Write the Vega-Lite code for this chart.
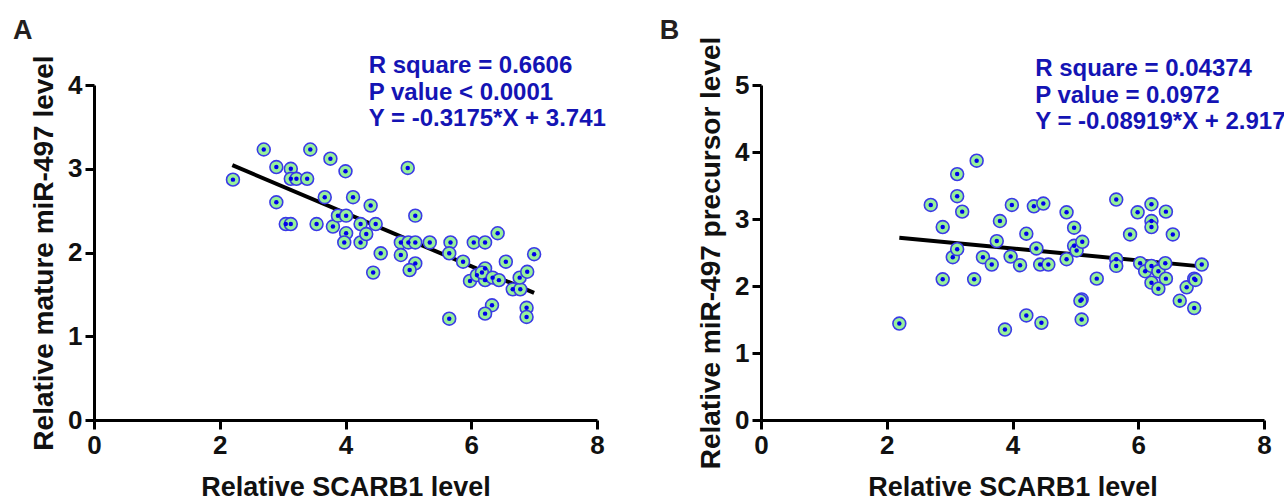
{
  "$schema": "https://vega.github.io/schema/vega-lite/v6.json",
  "autosize": {"type": "pad"},
  "padding": {"left": 12, "top": 16, "right": 0, "bottom": 0},
  "bounds": "flush",
  "spacing": 164,
  "background": "white",
  "config": {
    "view": {"stroke": null},
    "font": "Liberation Sans",
    "axis": {
      "grid": false,
      "domainColor": "black",
      "domainWidth": 3,
      "tickColor": "black",
      "tickWidth": 3,
      "tickSize": 9,
      "labelFont": "Liberation Sans",
      "labelFontSize": 26,
      "labelFontWeight": "bold",
      "labelColor": "#111111",
      "labelPadding": 3,
      "labelFlush": false,
      "titleFont": "Liberation Sans",
      "titleFontWeight": "bold",
      "titleColor": "#111111"
    },
    "axisX": {"titleFontSize": 27, "titlePadding": 16},
    "axisY": {"titleFontSize": 28, "titlePadding": 9}
  },
  "datasets": {
    "a": [
      {"scarb1": 2.21, "mature": 2.87}, {"scarb1": 2.70, "mature": 3.23}, {"scarb1": 2.90, "mature": 3.02},
      {"scarb1": 3.13, "mature": 3.00}, {"scarb1": 3.13, "mature": 2.88}, {"scarb1": 3.22, "mature": 2.88},
      {"scarb1": 3.39, "mature": 2.88}, {"scarb1": 3.44, "mature": 3.23}, {"scarb1": 2.90, "mature": 2.60},
      {"scarb1": 3.05, "mature": 2.34}, {"scarb1": 3.13, "mature": 2.34}, {"scarb1": 3.54, "mature": 2.34},
      {"scarb1": 3.67, "mature": 2.66}, {"scarb1": 3.76, "mature": 3.12}, {"scarb1": 3.80, "mature": 2.31},
      {"scarb1": 3.88, "mature": 2.44}, {"scarb1": 4.01, "mature": 2.44}, {"scarb1": 4.00, "mature": 2.97},
      {"scarb1": 4.01, "mature": 2.23}, {"scarb1": 3.98, "mature": 2.12}, {"scarb1": 4.12, "mature": 2.66},
      {"scarb1": 4.24, "mature": 2.34}, {"scarb1": 4.24, "mature": 2.12}, {"scarb1": 4.33, "mature": 2.22},
      {"scarb1": 4.40, "mature": 2.56}, {"scarb1": 4.48, "mature": 2.34}, {"scarb1": 4.56, "mature": 1.99},
      {"scarb1": 4.44, "mature": 1.76}, {"scarb1": 4.99, "mature": 3.01}, {"scarb1": 5.11, "mature": 2.44},
      {"scarb1": 4.88, "mature": 2.12}, {"scarb1": 5.00, "mature": 2.12}, {"scarb1": 5.11, "mature": 2.12},
      {"scarb1": 5.34, "mature": 2.12}, {"scarb1": 4.88, "mature": 1.97}, {"scarb1": 5.11, "mature": 1.87},
      {"scarb1": 5.02, "mature": 1.79}, {"scarb1": 5.67, "mature": 2.12}, {"scarb1": 5.65, "mature": 1.99},
      {"scarb1": 5.65, "mature": 1.21}, {"scarb1": 5.87, "mature": 1.89}, {"scarb1": 6.04, "mature": 2.12},
      {"scarb1": 6.22, "mature": 2.12}, {"scarb1": 6.42, "mature": 2.23}, {"scarb1": 5.98, "mature": 1.66},
      {"scarb1": 6.09, "mature": 1.73}, {"scarb1": 6.22, "mature": 1.81}, {"scarb1": 6.22, "mature": 1.67},
      {"scarb1": 6.17, "mature": 1.76}, {"scarb1": 6.34, "mature": 1.70}, {"scarb1": 6.44, "mature": 1.67},
      {"scarb1": 6.55, "mature": 1.89}, {"scarb1": 6.66, "mature": 1.56}, {"scarb1": 6.78, "mature": 1.56},
      {"scarb1": 6.77, "mature": 1.70}, {"scarb1": 6.89, "mature": 1.77}, {"scarb1": 7.00, "mature": 1.98},
      {"scarb1": 6.33, "mature": 1.37}, {"scarb1": 6.22, "mature": 1.27}, {"scarb1": 6.88, "mature": 1.34},
      {"scarb1": 6.88, "mature": 1.23}
    ],
    "b": [
      {"scarb1": 2.20, "precursor": 1.44}, {"scarb1": 2.70, "precursor": 3.21}, {"scarb1": 2.89, "precursor": 2.88},
      {"scarb1": 2.89, "precursor": 2.10}, {"scarb1": 3.05, "precursor": 2.43}, {"scarb1": 3.12, "precursor": 2.55},
      {"scarb1": 3.12, "precursor": 3.67}, {"scarb1": 3.12, "precursor": 3.34}, {"scarb1": 3.20, "precursor": 3.11},
      {"scarb1": 3.39, "precursor": 2.10}, {"scarb1": 3.43, "precursor": 3.87}, {"scarb1": 3.53, "precursor": 2.43},
      {"scarb1": 3.67, "precursor": 2.32}, {"scarb1": 3.75, "precursor": 2.67}, {"scarb1": 3.80, "precursor": 2.97},
      {"scarb1": 3.88, "precursor": 1.35}, {"scarb1": 3.99, "precursor": 3.21}, {"scarb1": 3.97, "precursor": 2.44},
      {"scarb1": 4.12, "precursor": 2.31}, {"scarb1": 4.22, "precursor": 2.78}, {"scarb1": 4.22, "precursor": 1.56},
      {"scarb1": 4.34, "precursor": 3.19}, {"scarb1": 4.38, "precursor": 2.56}, {"scarb1": 4.44, "precursor": 2.32},
      {"scarb1": 4.49, "precursor": 3.23}, {"scarb1": 4.46, "precursor": 1.45}, {"scarb1": 4.57, "precursor": 2.32},
      {"scarb1": 4.86, "precursor": 2.40}, {"scarb1": 4.86, "precursor": 3.10}, {"scarb1": 4.98, "precursor": 2.87},
      {"scarb1": 4.98, "precursor": 2.60}, {"scarb1": 5.02, "precursor": 2.53}, {"scarb1": 5.11, "precursor": 2.66},
      {"scarb1": 5.10, "precursor": 1.80}, {"scarb1": 5.08, "precursor": 1.78}, {"scarb1": 5.10, "precursor": 1.50},
      {"scarb1": 5.34, "precursor": 2.11}, {"scarb1": 5.65, "precursor": 3.29}, {"scarb1": 5.65, "precursor": 2.40},
      {"scarb1": 5.65, "precursor": 2.30}, {"scarb1": 5.87, "precursor": 2.77}, {"scarb1": 5.99, "precursor": 3.10},
      {"scarb1": 6.21, "precursor": 3.22}, {"scarb1": 6.21, "precursor": 2.97}, {"scarb1": 6.21, "precursor": 2.88},
      {"scarb1": 6.44, "precursor": 3.11}, {"scarb1": 6.55, "precursor": 2.77}, {"scarb1": 6.03, "precursor": 2.34},
      {"scarb1": 6.11, "precursor": 2.22}, {"scarb1": 6.21, "precursor": 2.30}, {"scarb1": 6.32, "precursor": 2.22},
      {"scarb1": 6.43, "precursor": 2.34}, {"scarb1": 6.21, "precursor": 2.05}, {"scarb1": 6.32, "precursor": 1.96},
      {"scarb1": 6.44, "precursor": 2.11}, {"scarb1": 6.66, "precursor": 1.78}, {"scarb1": 6.77, "precursor": 1.98},
      {"scarb1": 6.89, "precursor": 2.11}, {"scarb1": 6.91, "precursor": 2.09}, {"scarb1": 6.89, "precursor": 1.67},
      {"scarb1": 7.01, "precursor": 2.32}
    ],
    "fitA": [{"scarb1": 2.2, "mature": 3.043}, {"scarb1": 7.0, "mature": 1.519}],
    "fitB": [{"scarb1": 2.2, "precursor": 2.721}, {"scarb1": 7.0, "precursor": 2.293}],
    "annA": [{"scarb1": 4.37, "mature": 4.14, "label": "R square = 0.6606\nP value < 0.0001\nY = -0.3175*X + 3.741"}],
    "annB": [{"scarb1": 4.36, "precursor": 5.13, "label": "R square = 0.04374\nP value = 0.0972\nY = -0.08919*X + 2.917"}],
    "tagA": [{"scarb1": -1.29, "mature": 4.55, "label": "A"}],
    "tagB": [{"scarb1": -1.61, "precursor": 5.69, "label": "B"}]
  },
  "hconcat": [
    {
      "width": 503,
      "height": 335,
      "encoding": {
        "x": {"field": "scarb1", "type": "quantitative", "scale": {"domain": [0, 8], "nice": false, "zero": true},
              "axis": {"values": [0, 2, 4, 6, 8], "title": "Relative SCARB1 level"}},
        "y": {"field": "mature", "type": "quantitative", "scale": {"domain": [0, 4], "nice": false},
              "axis": {"values": [0, 1, 2, 3, 4], "title": "Relative mature miR-497 level"}}
      },
      "layer": [
        {"data": {"name": "fitA"}, "mark": {"type": "line", "color": "black", "strokeWidth": 4}},
        {"data": {"name": "a"}, "mark": {"type": "point", "shape": "circle", "filled": true, "fill": "#96f09a", "stroke": "#3a3ae6", "strokeWidth": 1.6, "size": 165, "opacity": 1}},
        {"data": {"name": "a"}, "mark": {"type": "circle", "color": "#0000e8", "size": 20, "opacity": 1}},
        {"data": {"name": "annA"}, "mark": {"type": "text", "align": "left", "baseline": "alphabetic", "fontSize": 24, "fontWeight": "bold", "color": "#1414b4", "lineBreak": "\n", "lineHeight": 26.5},
         "encoding": {"text": {"field": "label"}}},
        {"data": {"name": "tagA"}, "mark": {"type": "text", "align": "left", "baseline": "alphabetic", "fontSize": 27, "fontWeight": "bold", "color": "#231f20"},
         "encoding": {"text": {"field": "label"}}}
      ]
    },
    {
      "width": 503,
      "height": 335,
      "encoding": {
        "x": {"field": "scarb1", "type": "quantitative", "scale": {"domain": [0, 8], "nice": false, "zero": true},
              "axis": {"values": [0, 2, 4, 6, 8], "title": "Relative SCARB1 level"}},
        "y": {"field": "precursor", "type": "quantitative", "scale": {"domain": [0, 5], "nice": false},
              "axis": {"values": [0, 1, 2, 3, 4, 5], "title": "Relative miR-497 precursor level"}}
      },
      "layer": [
        {"data": {"name": "fitB"}, "mark": {"type": "line", "color": "black", "strokeWidth": 4}},
        {"data": {"name": "b"}, "mark": {"type": "point", "shape": "circle", "filled": true, "fill": "#96f09a", "stroke": "#3a3ae6", "strokeWidth": 1.6, "size": 165, "opacity": 1}},
        {"data": {"name": "b"}, "mark": {"type": "circle", "color": "#0000e8", "size": 20, "opacity": 1}},
        {"data": {"name": "annB"}, "mark": {"type": "text", "align": "left", "baseline": "alphabetic", "fontSize": 24, "fontWeight": "bold", "color": "#1414b4", "lineBreak": "\n", "lineHeight": 26.5},
         "encoding": {"text": {"field": "label"}}},
        {"data": {"name": "tagB"}, "mark": {"type": "text", "align": "left", "baseline": "alphabetic", "fontSize": 27, "fontWeight": "bold", "color": "#231f20"},
         "encoding": {"text": {"field": "label"}}}
      ]
    }
  ]
}
